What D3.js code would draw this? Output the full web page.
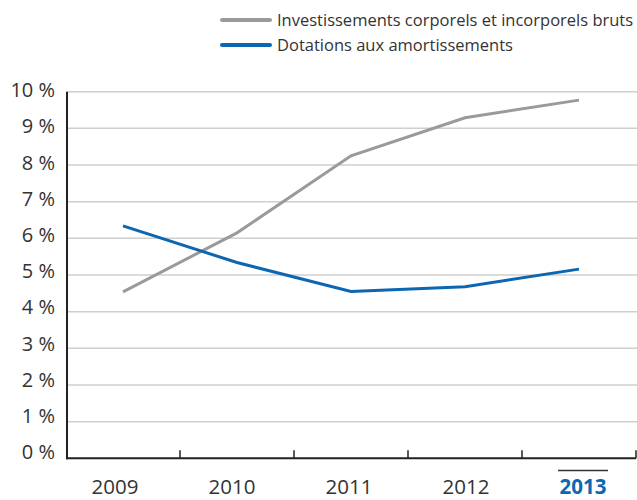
<!DOCTYPE html>
<html>
<head>
<meta charset="utf-8">
<script src="https://cdn.jsdelivr.net/npm/d3@7"></script>
<style>
  body { margin: 0; background: #fff; }
  svg { display: block; font-family: "Open Sans", "Noto Sans", sans-serif; }
</style>
</head>
<body>
<svg id="chart" width="637" height="500"></svg>
<script>
// Ratios in % of revenue, by year
const years = ["2009", "2010", "2011", "2012", "2013"];
const investissements = [4.54, 6.15, 8.25, 9.29, 9.77];
const dotations = [6.34, 5.34, 4.55, 4.68, 5.16];
const yTicks = [0, 1, 2, 3, 4, 5, 6, 7, 8, 9, 10];
const seriesNames = ["Investissements corporels et incorporels bruts", "Dotations aux amortissements"];

const svg = d3.select("#chart");
const margin = { left: 67, right: 1, top: 91.7, bottom: 41.7 };
const W = 637, H = 500;

const x = d3.scaleBand().domain(years).range([margin.left - 1, W - margin.right]).padding(0);
const y = d3.scaleLinear().domain([0, 10]).range([H - margin.bottom, margin.top]);
// label placement scales (labels sit on a slightly different rhythm than the plot)
const xLabel = d3.scalePoint().domain(years).range([115, 583]);
const yLabel = d3.scaleLinear().domain([0, 10]).range([452, 90]);

// horizontal gridlines
svg.append("g")
  .selectAll("line")
  .data(yTicks.filter(d => d > 0))
  .join("line")
  .attr("x1", margin.left).attr("x2", W)
  .attr("y1", d => y(d)).attr("y2", d => y(d))
  .attr("stroke", "#cfcfcf").attr("stroke-width", 1.5);

// y labels
svg.append("g")
  .selectAll("text")
  .data(yTicks)
  .join("text")
  .attr("x", 55)
  .attr("y", d => yLabel(d))
  .attr("dy", "0.36em")
  .attr("text-anchor", "end")
  .attr("font-size", 20)
  .attr("fill", "#333")
  .text(d => d + " %");

// x axis with upward ticks at band boundaries
const xAxis = svg.append("g");
xAxis.append("line")
  .attr("x1", x.range()[0]).attr("x2", x.range()[1])
  .attr("y1", y(0)).attr("y2", y(0))
  .attr("stroke", "#222").attr("stroke-width", 2);
const bounds = years.map(d => x(d) + x.bandwidth());
xAxis.selectAll("line.tick")
  .data(bounds)
  .join("line")
  .attr("class", "tick")
  .attr("x1", d => Math.min(d, W - 1)).attr("x2", d => Math.min(d, W - 1))
  .attr("y1", y(0)).attr("y2", y(0) - 8)
  .attr("stroke", "#222").attr("stroke-width", 1.5);

// y axis line
svg.append("line")
  .attr("x1", margin.left).attr("x2", margin.left)
  .attr("y1", y(10)).attr("y2", y(0) + 1)
  .attr("stroke", "#222").attr("stroke-width", 2);

// year labels
svg.append("g")
  .selectAll("text")
  .data(years)
  .join("text")
  .attr("x", d => xLabel(d))
  .attr("y", 494)
  .attr("text-anchor", "middle")
  .attr("font-size", 20.5)
  .attr("font-weight", (d, i) => i === years.length - 1 ? 700 : 400)
  .attr("fill", (d, i) => i === years.length - 1 ? "#0b67b2" : "#333")
  .text(d => d);

// overline on the current year
const last = years[years.length - 1];
svg.append("line")
  .attr("x1", xLabel(last) - 25)
  .attr("x2", xLabel(last) + 25)
  .attr("y1", 470.5).attr("y2", 470.5)
  .attr("stroke", "#333").attr("stroke-width", 1.5);

// lines
const line = d3.line()
  .x((d, i) => x(years[i]) + x.bandwidth() / 2)
  .y(d => y(d));

const colors = ["#9a9a9c", "#0b67b2"];
[investissements, dotations].forEach((s, i) => {
  svg.append("path")
    .datum(s)
    .attr("d", line)
    .attr("fill", "none")
    .attr("stroke", colors[i])
    .attr("stroke-width", 3);
});

// legend
const legend = svg.append("g");
seriesNames.forEach((name, i) => {
  const ly = 20 + i * 25;
  legend.append("line")
    .attr("x1", 222).attr("x2", 270)
    .attr("y1", ly).attr("y2", ly)
    .attr("stroke", colors[i]).attr("stroke-width", 4)
    .attr("stroke-linecap", "round");
  legend.append("text")
    .attr("x", 277).attr("y", ly)
    .attr("dy", "0.35em")
    .attr("font-size", 16.5)
    .attr("fill", "#333")
    .text(name);
});
</script>
</body>
</html>
